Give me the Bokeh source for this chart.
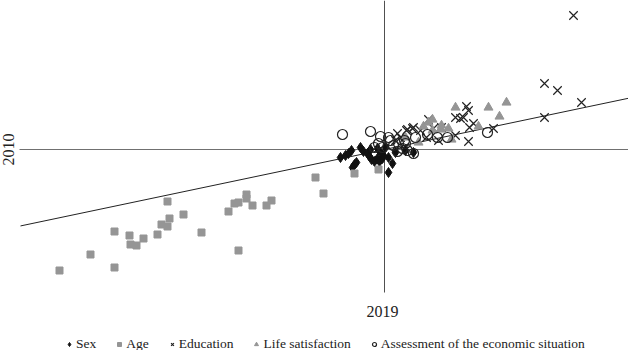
import math
from bokeh.plotting import figure
from bokeh.models import Range1d, Legend, LegendItem
from bokeh.core.properties import value
from bokeh.embed import file_html
from bokeh.resources import INLINE

# ---- data (change 2010 on y, change 2019 on x) ----
sex_x = [-0.44, -0.39, -0.36, -0.33, -0.30, -0.32, -0.28, -0.24, -0.21, -0.17, -0.15, -0.13, -0.10, -0.07,
         -0.05, -0.02, -0.01, -0.04, -0.07, 0.04, 0.08, 0.01, -0.14, 0.04, 0.11, 0.29, 0.21]
sex_y = [-0.08, -0.06, -0.04, -0.01, -0.15, -0.18, -0.13, 0.02, -0.02, -0.04, -0.07, -0.10, -0.12, -0.09,
         -0.12, -0.09, -0.06, -0.03, 0.01, -0.23, -0.14, 0.02, 0.00, -0.08, -0.03, -0.03, -0.01]

age_x = [-3.25, -2.94, -2.70, -2.70, -2.55, -2.54, -2.48, -2.41, -2.27, -2.23, -2.17, -2.15, -2.17, -2.01,
         -1.83, -1.56, -1.50, -1.46, -1.38, -1.38, -1.32, -1.46, -1.18, -1.13, -0.61, -0.69, -0.30, -0.06]
age_y = [-1.21, -1.05, -0.82, -1.18, -0.86, -0.95, -0.96, -0.89, -0.85, -0.75, -0.52, -0.69, -0.77, -0.65,
         -0.83, -0.62, -0.54, -0.53, -0.45, -0.49, -0.56, -1.01, -0.56, -0.51, -0.44, -0.28, -0.24, -0.20]

edu_x = [1.89, 1.60, 1.73, 1.97, 1.60, 0.82, 0.84, 0.71, 0.79, 0.89, 0.85, 0.84, 1.09, 0.71, 0.44, 0.57,
         0.49, 0.29, 0.23, 0.42, 0.54, 0.13, 0.22, 0.28, 0.16, 0.11, 0.36, 0.76]
edu_y = [1.34, 0.66, 0.59, 0.47, 0.32, 0.43, 0.39, 0.32, 0.32, 0.26, 0.22, 0.08, 0.21, 0.14, 0.30, 0.22,
         0.21, 0.22, 0.20, 0.12, 0.09, 0.16, 0.19, 0.21, 0.12, 0.09, 0.19, 0.31]

life_x = [0.71, 1.04, 1.22, 1.15, 0.94, 0.48, 0.44, 0.39, 0.56, 0.48, 0.67, 0.34, 0.21, 0.64, 0.57]
life_y = [0.42, 0.42, 0.47, 0.33, 0.23, 0.30, 0.27, 0.23, 0.20, 0.19, 0.10, 0.07, 0.12, 0.21, 0.24]

econ_x = [-0.42, -0.14, -0.04, 0.04, -0.06, -0.10, -0.02, 0.09, 0.13, 0.18, 0.21, 0.29, 0.23, 1.03, 0.63,
          0.53, 0.43, 0.31, 0.20, 0.06, 0.14]
econ_y = [0.15, 0.18, 0.13, 0.12, 0.06, 0.02, 0.02, 0.04, -0.02, 0.01, 0.06, -0.04, -0.01, 0.17, 0.12,
          0.12, 0.15, 0.12, 0.09, 0.09, 0.06]

fit_slope = 0.21
fit_intercept = 0.0

legend_labels = ["Sex", "Age", "Education", "Life satisfaction", "Assessment of the economic situation"]
x_title = "2019"
y_title = "2010"

FONT = "Liberation Serif"
GRAY = "#959595"

p = figure(width=628, height=350, output_backend="svg", toolbar_location=None,
           x_range=Range1d(-3.84, 2.44), y_range=Range1d(-2.01, 1.49),
           min_border=0, min_border_left=0, min_border_right=0, min_border_top=0, min_border_bottom=0)
p.axis.visible = False
p.grid.visible = False
p.outline_line_color = None
p.background_fill_color = "white"
p.border_fill_color = "white"

# crossing axes
p.segment(x0=[-3.65], y0=[0], x1=[2.44], y1=[0], line_color="#707070", line_width=1)
p.segment(x0=[0], y0=[1.49], x1=[0], y1=[-1.43], line_color="#505050", line_width=1)

# fitted line
fx = [-3.64, 2.44]
fy = [fit_intercept + fit_slope * v for v in fx]
p.line(fx, fy, line_color="#222222", line_width=1)

r_sex = p.scatter(sex_x, sex_y, marker="diamond", size=10,
                  fill_color="#111111", line_color="#111111")
r_age = p.scatter(age_x, age_y, marker="square", size=7, fill_color=GRAY, line_color=GRAY)
r_edu = p.scatter(edu_x, edu_y, marker="x", size=12, line_color="#222222", line_width=1.2)
r_life = p.scatter(life_x, life_y, marker="triangle", size=9, fill_color=GRAY, line_color=GRAY)
r_econ = p.scatter(econ_x, econ_y, marker="circle", size=10, fill_alpha=0,
                   line_color="#222222", line_width=1.2)

p.text(x=[-0.02], y=[-1.62], text=[x_title], text_font=value(FONT), text_font_size="16px",
       text_align="center", text_baseline="middle", text_color="#222222")
p.text(x=[-3.76], y=[0.0], text=[y_title], text_font=value(FONT), text_font_size="16px",
       text_align="center", text_baseline="middle", angle=math.pi / 2, text_color="#222222")

items = [LegendItem(label=l, renderers=[r]) for l, r in
         zip(legend_labels, [r_sex, r_age, r_edu, r_life, r_econ])]
legend = Legend(items=items, orientation="horizontal", location=(64, -2),
                label_text_font="'Liberation Serif', serif", label_text_font_size="13.5px",
                label_text_color="#222222",
                glyph_width=10, glyph_height=10, label_standoff=2, spacing=18, padding=0,
                margin=0, border_line_color=None, background_fill_alpha=0, label_height=14)
p.add_layout(legend, "center")

open("out.html", "w").write(file_html(p, INLINE))
